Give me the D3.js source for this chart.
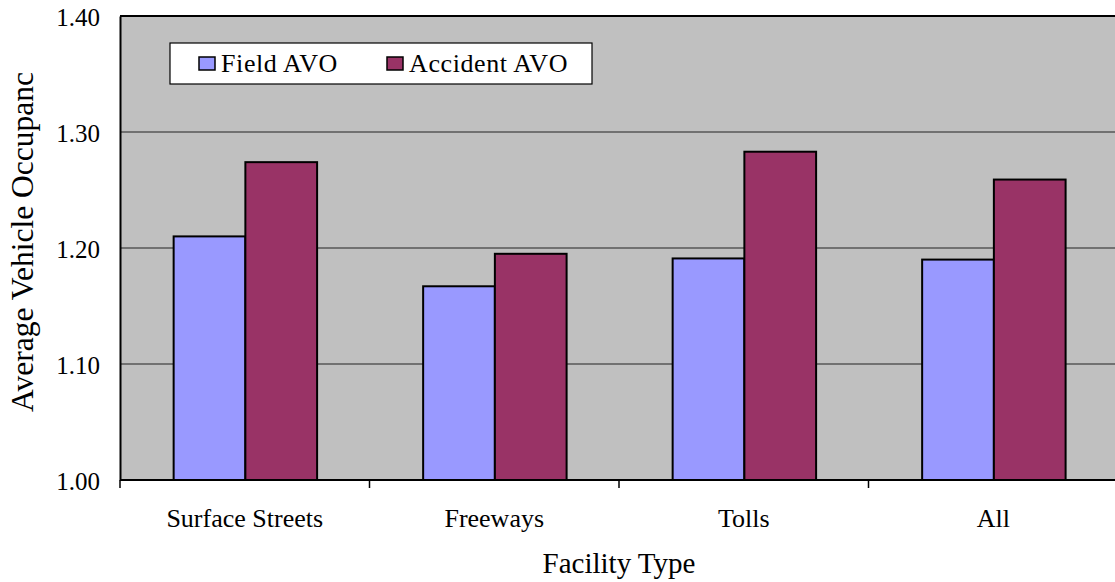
<!DOCTYPE html>
<html>
<head>
<meta charset="utf-8">
<script src="https://cdn.jsdelivr.net/npm/d3@7"></script>
<style>
  html, body { margin: 0; padding: 0; background: #fff; }
  svg { display: block; }
  text { font-family: "Liberation Serif", "Times New Roman", serif; fill: #000; }
</style>
</head>
<body>
<svg id="chart" width="1115" height="582"></svg>
<script>
// Average vehicle occupancy by facility type
const categories = ["Surface Streets", "Freeways", "Tolls", "All"];
const seriesNames = ["Field AVO", "Accident AVO"];
const fieldAVO = [1.210, 1.167, 1.191, 1.190];
const accidentAVO = [1.274, 1.195, 1.283, 1.259];
const yTicks = [1.00, 1.10, 1.20, 1.30, 1.40];
const seriesColors = ["#9999FF", "#993366"];

const rows = categories.map((c, i) => ({ category: c, values: [fieldAVO[i], accidentAVO[i]] }));

const svg = d3.select("#chart");
const margin = { left: 120, top: 16, right: -3, bottom: 102 };
const W = 1115, H = 582;
const plotW = W - margin.left - margin.right;
const plotH = H - margin.top - margin.bottom;

const x0 = d3.scaleBand().domain(categories).range([0, plotW]).padding(0);
const x1 = d3.scaleBand().domain(seriesNames)
  .range([x0.bandwidth() * 0.215, x0.bandwidth() * 0.79]).padding(0);
const y = d3.scaleLinear().domain([1.0, 1.4]).range([plotH, 0]);

const g = svg.append("g").attr("transform", `translate(${margin.left},${margin.top})`);

// plot background
g.append("rect").attr("x", 0).attr("y", 0).attr("width", plotW).attr("height", plotH)
  .attr("fill", "#C0C0C0");

// horizontal gridlines
g.selectAll("line.grid").data(yTicks.filter(t => t > 1.0 && t < 1.4)).enter()
  .append("line").attr("class", "grid")
  .attr("x1", 0).attr("x2", plotW)
  .attr("y1", d => y(d)).attr("y2", d => y(d))
  .attr("stroke", "#222").attr("stroke-width", 1.2);

// top border
g.append("line").attr("x1", 0).attr("x2", plotW).attr("y1", 0).attr("y2", 0)
  .attr("stroke", "#000").attr("stroke-width", 2);

// bars
const groups = g.selectAll("g.cat").data(rows).enter().append("g")
  .attr("transform", d => `translate(${x0(d.category)},0)`);
groups.selectAll("rect").data(d => d.values.map((v, i) => ({ key: seriesNames[i], v, i })))
  .enter().append("rect")
  .attr("x", d => x1(d.key))
  .attr("y", d => y(d.v))
  .attr("width", x1.bandwidth())
  .attr("height", d => y(1.0) - y(d.v))
  .attr("fill", d => seriesColors[d.i])
  .attr("stroke", "#000").attr("stroke-width", 2);

// y axis
const yAxis = d3.axisLeft(y).tickValues(yTicks).tickFormat(d3.format(".2f")).tickSize(0).tickPadding(20);
const ya = g.append("g").call(yAxis);
ya.select(".domain").attr("stroke", "#000").attr("stroke-width", 2);
ya.selectAll("text").attr("font-size", 25).style("font-family", "Liberation Serif").attr("dy", "0.36em");

// x axis with ticks at category boundaries
const xa = g.append("g").attr("transform", `translate(0,${plotH})`);
xa.append("line").attr("x1", 0).attr("x2", plotW).attr("y1", 0).attr("y2", 0)
  .attr("stroke", "#000").attr("stroke-width", 2);
const bounds = categories.map(c => x0(c)).concat([plotW]);
xa.selectAll("line.tick").data(bounds).enter().append("line").attr("class", "tick")
  .attr("x1", d => d).attr("x2", d => d).attr("y1", 0).attr("y2", 8)
  .attr("stroke", "#000").attr("stroke-width", 1.5);
xa.selectAll("text.cat").data(categories).enter().append("text").attr("class", "cat")
  .attr("x", d => x0(d) + x0.bandwidth() / 2).attr("y", 47)
  .attr("text-anchor", "middle").attr("font-size", 26).text(d => d);

// axis titles
svg.append("text").attr("x", margin.left + x0.bandwidth() * 2).attr("y", 573)
  .attr("text-anchor", "middle").attr("font-size", 29).text("Facility Type");
svg.append("text").attr("transform", "translate(33,242) rotate(-90)")
  .attr("text-anchor", "middle").attr("font-size", 31.5).text("Average Vehicle Occupanc");

// legend
const leg = svg.append("g").attr("transform", "translate(170,43)");
leg.append("rect").attr("x", 0).attr("y", 0).attr("width", 422).attr("height", 41)
  .attr("fill", "#fff").attr("stroke", "#000").attr("stroke-width", 1.2);
const legX = [29, 217];
seriesNames.forEach((name, i) => {
  leg.append("rect").attr("x", legX[i]).attr("y", 14).attr("width", 16).attr("height", 13)
    .attr("fill", seriesColors[i]).attr("stroke", "#000").attr("stroke-width", 1.5);
  leg.append("text").attr("x", legX[i] + 22).attr("y", 29).attr("font-size", 26)
    .attr("letter-spacing", 0.6).text(name);
});
</script>
</body>
</html>
